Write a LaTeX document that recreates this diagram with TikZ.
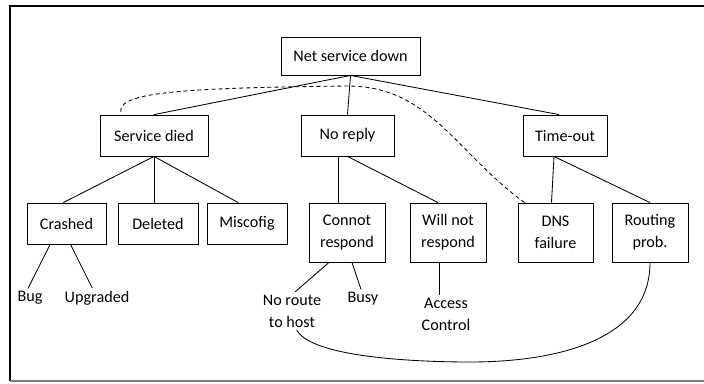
\documentclass[tikz,border=0pt]{standalone}
\usepackage{fontspec}
\setmainfont{Carlito}
\begin{document}
\begin{tikzpicture}[
        x=0.025cm, y=-0.025cm,
        font=\fontsize{11.5}{15.5}\selectfont,
    ]

    \tikzstyle{box} = [rectangle, minimum width=2cm, minimum height=1.025cm,
                       text centered, align=center, inner sep=1pt, draw=black, line width=0.6pt];
    \tikzstyle{leaf} = [align=center, inner sep=2pt];
    \tikzstyle{link} = [line width=0.6pt];

    \definecolor{framegray}{RGB}{125,125,125}

    \useasboundingbox (0,0) rectangle (704,383);

    % Frame
    \draw[line width=1.4pt] (704,6) -- (10,6) -- (10,381);
    \draw[framegray, line width=0.8pt] (10,381) -- (704,381);

    % Nodes
    \node[box, minimum width=3.475cm, minimum height=0.95cm] (netdown) at (350.5,56) {Net service down};
    \node[box, minimum width=2.7cm] (died) at (154,135.5) {Service died};
    \node[box, minimum width=2.325cm] (noreply) at (347.5,135.5) {No reply};
    \node[box, minimum width=2.1cm] (timeout) at (565,135.5) {Time-out};
    \node[box, minimum width=1.975cm] (crashed) at (66.5,223.5) {Crashed};
    \node[box] (deleted) at (158,223.5) {Deleted};
    \node[box] (miscofig) at (247,223.5) {Miscofig};
    \node[box, minimum width=1.9cm, minimum height=1.475cm] (connot) at (347,232.5) {Connot\\respond};
    \node[box, minimum width=1.9cm, minimum height=1.475cm] (willnot) at (448,232.5) {Will not\\respond};
    \node[box, minimum width=1.875cm, minimum height=1.475cm] (dns) at (555.5,232.5) {DNS\\failure};
    \node[box, minimum width=1.9cm, minimum height=1.475cm] (routing) at (650,232.5) {Routing\\prob.};
    \node[leaf] (bug) at (30,298) {Bug};
    \node[leaf] (upgraded) at (97,298) {Upgraded};
    \node[leaf] (noroute) at (292,311) {No route\\to host};
    \node[leaf] (busy) at (363,299) {Busy};
    \node[leaf] (access) at (446,314) {Access\\Control};

    \coordinate (dashtop) at (347,86);
    \coordinate (loopbottom) at (470,362);

    % Lines
    \draw[link] (netdown.south) -- (died.north);
    \draw[link] (netdown.south) -- (noreply.north);
    \draw[link] (netdown.south) -- ([xshift=-0.15cm]timeout.north);
    \draw[link] (died.south) -- ([xshift=-0.08cm]crashed.north);
    \draw[link] (died.south) -- (died.south |- deleted.north);
    \draw[link] (died.south) -- ([xshift=-0.22cm]miscofig.north);
    \draw[link] ([xshift=-0.225cm]noreply.south) -- ([xshift=-0.225cm]noreply.south |- connot.north);
    \draw[link] (noreply.south) -- ([xshift=-0.25cm]willnot.north);
    \draw[link] ([xshift=-0.275cm]timeout.south) -- ([xshift=-0.1cm]dns.north);
    \draw[link] ([xshift=-0.275cm]timeout.south) -- (routing.north);
    \draw[link] ([xshift=-0.41cm]crashed.south) -- ([xshift=-0.05cm]bug.north);
    \draw[link] ([xshift=0.1cm]crashed.south) -- ([xshift=-0.12cm]upgraded.north);
    \draw[link] ([xshift=-0.45cm]connot.south) -- ([xshift=0.08cm]noroute.north);
    \draw[link] ([xshift=0.125cm]connot.south) -- ([xshift=-0.05cm]busy.north);
    \draw[link] ([xshift=-0.225cm]willnot.south) -- ([xshift=-0.225cm]willnot.south |- access.north);

    % Dashed link
    \draw[link, dash pattern=on 1mm off 0.75mm] ([xshift=0.175cm]dns.north west)
        .. controls (455,152) and (430,86) .. (dashtop)
        .. controls (180,88) and (112,92) .. ([xshift=0.55cm]died.north west);

    % Return curve
    \draw[link] ([xshift=0.12cm]noroute.south) to[out=-60, in=180, looseness=0.5] (loopbottom)
        to[out=0, in=-90] (routing.south);

    \end{tikzpicture}
\end{document}
